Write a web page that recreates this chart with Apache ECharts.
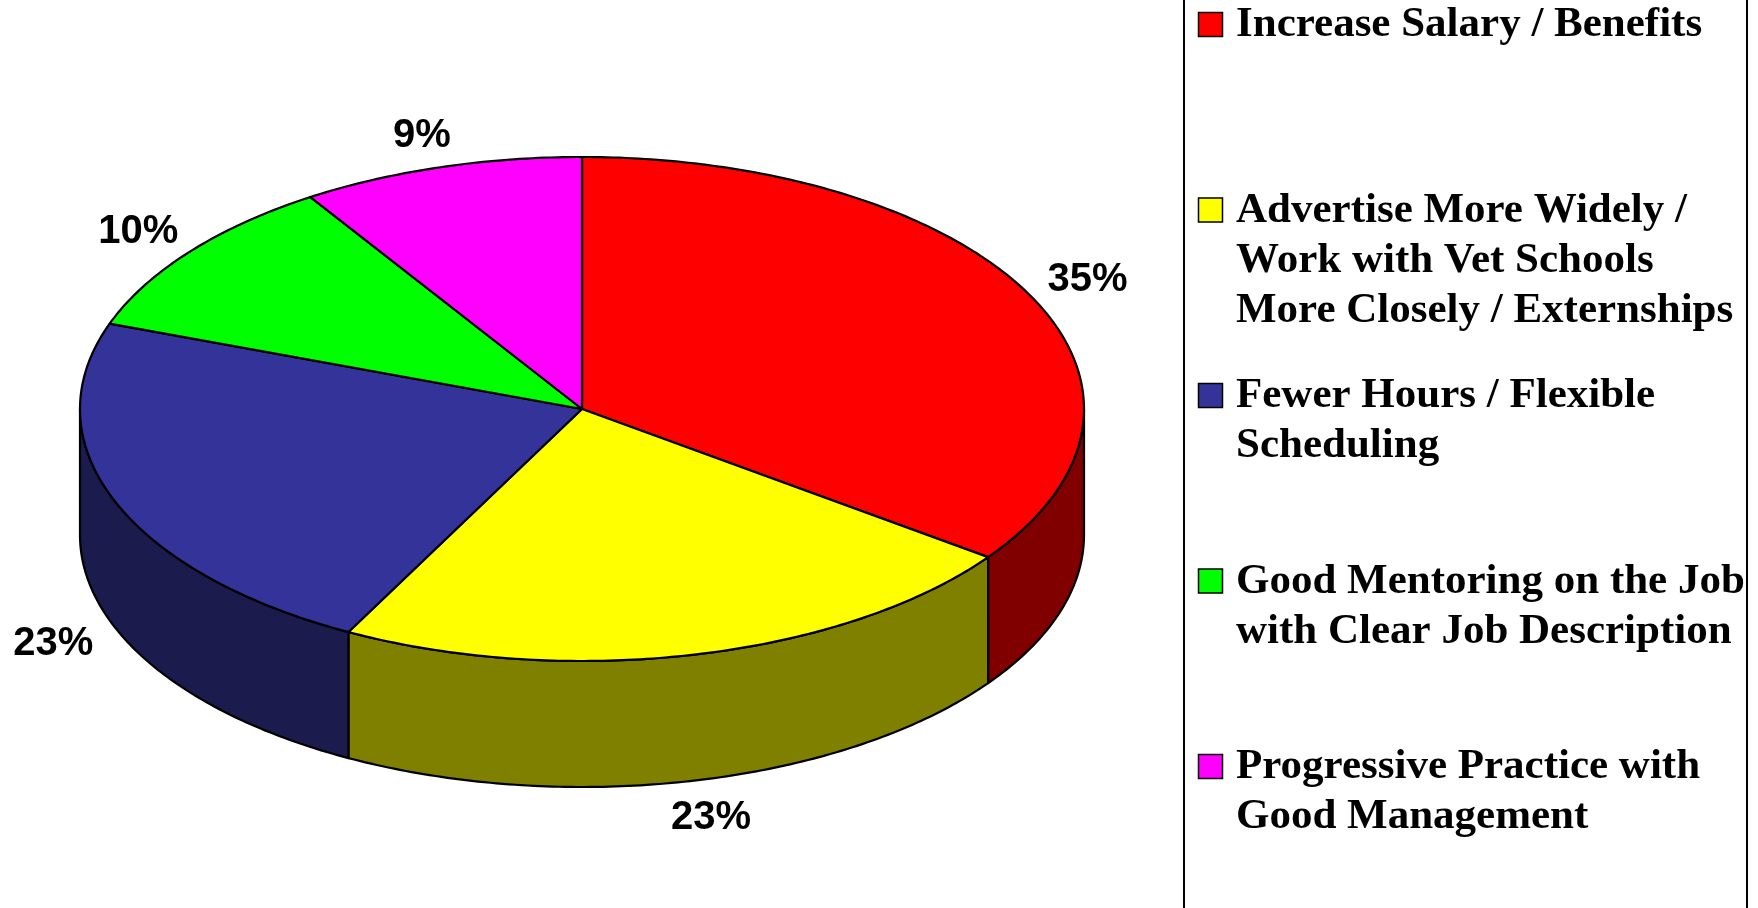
<!DOCTYPE html>
<html>
<head>
<meta charset="utf-8">
<title>3D pie</title>
<script src="https://cdn.jsdelivr.net/npm/echarts/dist/echarts.min.js"></script>
<style>
html, body { margin: 0; padding: 0; background: #fff; }
#main { width: 1758px; height: 908px; }
</style>
</head>
<body>
<div id="main"></div>
<script>
// categories and shares (percent)
var categories = [
    'Increase Salary / Benefits',
    'Advertise More Widely /\nWork with Vet Schools\nMore Closely / Externships',
    'Fewer Hours / Flexible\nScheduling',
    'Good Mentoring on the Job\nwith Clear Job Description',
    'Progressive Practice with\nGood Management'
];
var values = [35.0, 22.7, 22.8, 10.4, 9.1];
var topColors = ['#ff0000', '#ffff00', '#333399', '#00ff00', '#ff00ff'];
var sideColors = ['#800000', '#808000', '#1b1b4d', '#008000', '#800080'];

var total = values.reduce(function (a, b) { return a + b; }, 0);

// pie geometry (top ellipse + wall height)
var cx = 582, cy = 409, rx = 502, ry = 252, depth = 126;

var chartDom = document.getElementById('main');
var myChart = echarts.init(chartDom);

function sliceRange(i) {
    var s = 0;
    for (var j = 0; j < i; j++) s += values[j];
    return [s, s + values[i]];
}

// point on the tilted disc: polar coord squashed vertically
function ptAt(api, r, a, dy) {
    var p = api.coord([r, a]);
    return [p[0], cy + (p[1] - cy) * ry / rx + (dy || 0)];
}

function arc(api, a0, a1, dy) {
    var pts = [];
    var n = Math.max(2, Math.ceil(Math.abs(a1 - a0) / 0.2));
    for (var k = 0; k <= n; k++) {
        pts.push(ptAt(api, 1, a0 + (a1 - a0) * k / n, dy));
    }
    return pts;
}

var lineStyle = { stroke: '#000', lineWidth: 2.2, lineJoin: 'round' };

function renderWall(params, api) {
    var i = params.dataIndex;
    var r = sliceRange(i);
    // only the front half of the rim is seen
    var a0 = Math.max(r[0], total * 0.25), a1 = Math.min(r[1], total * 0.75);
    if (a0 >= a1) return;
    var pts = arc(api, a0, a1, 0).concat(arc(api, a1, a0, depth));
    return {
        type: 'polygon',
        shape: { points: pts },
        style: Object.assign({ fill: sideColors[i] }, lineStyle)
    };
}

function renderTop(params, api) {
    var i = params.dataIndex;
    var r = sliceRange(i);
    var pts = [ptAt(api, 0, r[0])].concat(arc(api, r[0], r[1], 0));
    var mid = (r[0] + r[1]) / 2;
    var lp = ptAt(api, 1.13, mid);
    if (mid > total * 0.25 && mid < total * 0.75) lp[1] += depth + 6;
    return {
        type: 'group',
        children: [{
            type: 'polygon',
            shape: { points: pts },
            style: Object.assign({ fill: topColors[i] }, lineStyle)
        }, {
            type: 'text',
            x: lp[0],
            y: lp[1],
            style: {
                text: Math.round(values[i] / total * 100) + '%',
                font: 'bold 40px "Liberation Sans", Arial, sans-serif',
                fill: '#000',
                align: 'center',
                verticalAlign: 'middle'
            }
        }]
    };
}

// legend drawn as graphic elements
var legendItems = [];
legendItems.push({
    type: 'rect',
    shape: { x: 1184, y: -10, width: 563, height: 940 },
    style: { fill: 'none', stroke: '#000', lineWidth: 2 }
});
categories.forEach(function (name, i) {
    var yc = 25 + i * 185.5;
    legendItems.push({
        type: 'rect',
        shape: { x: 1198.5, y: yc - 12.5, width: 24, height: 24 },
        style: { fill: topColors[i], stroke: '#000', lineWidth: 1.5 }
    });
    legendItems.push({
        type: 'text',
        x: 1236,
        y: yc - 25,
        style: {
            text: name,
            font: 'bold 43px "Liberation Serif", "Times New Roman", serif',
            lineHeight: 50,
            fill: '#000',
            verticalAlign: 'top'
        }
    });
});

var option = {
    animation: false,
    backgroundColor: '#fff',
    polar: { center: [cx, cy], radius: rx },
    angleAxis: {
        type: 'value', min: 0, max: total, startAngle: 90, clockwise: true,
        show: false
    },
    radiusAxis: { type: 'value', min: 0, max: 1, show: false },
    graphic: legendItems,
    series: [{
        type: 'custom',
        name: 'wall',
        coordinateSystem: 'polar',
        renderItem: renderWall,
        data: values,
        z: 1
    }, {
        type: 'custom',
        name: 'top',
        coordinateSystem: 'polar',
        renderItem: renderTop,
        data: values,
        z: 2
    }]
};

option && myChart.setOption(option);
</script>
</body>
</html>
